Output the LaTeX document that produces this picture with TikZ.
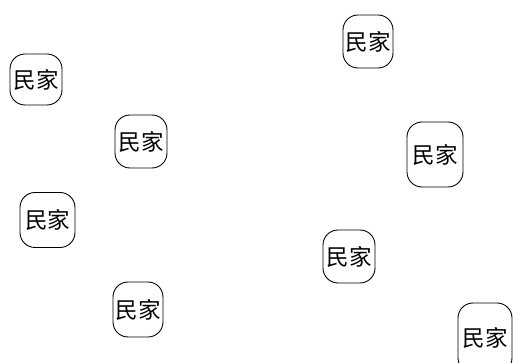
\documentclass[tikz,border=0pt]{standalone}
\usepackage{fontspec}
\newfontfamily\cjk{Noto Sans CJK SC}
\begin{document}
\begin{tikzpicture}[x=1pt,y=-1pt,
  house/.style={draw=black,line width=0.9pt,rounded corners=15pt,inner sep=0pt,
    font=\cjk\fontsize{22.5}{22.5}\selectfont}]
\useasboundingbox (0,0) rectangle (515,363);
\clip (0,0) rectangle (515,363);
\node[house,minimum width=52pt,minimum height=51pt] (h1) at (36,79.5) {民家};
\node[house,minimum width=50pt,minimum height=53pt] (h2) at (368,41.5) {民家};
\node[house,minimum width=56pt,minimum height=65pt] (h3) at (435,154.5) {民家};
\node[house,minimum width=54pt,minimum height=70pt] (h4) at (485,338) {民家};
\node[house,minimum width=52pt,minimum height=53pt] (h5) at (141,141.5) {民家};
\node[house,minimum width=55pt,minimum height=55pt] (h6) at (47.5,220) {民家};
\node[house,minimum width=52pt,minimum height=53pt] (h7) at (349,256.5) {民家};
\node[house,minimum width=50pt,minimum height=55pt] (h8) at (138,309.5) {民家};
\end{tikzpicture}
\end{document}
